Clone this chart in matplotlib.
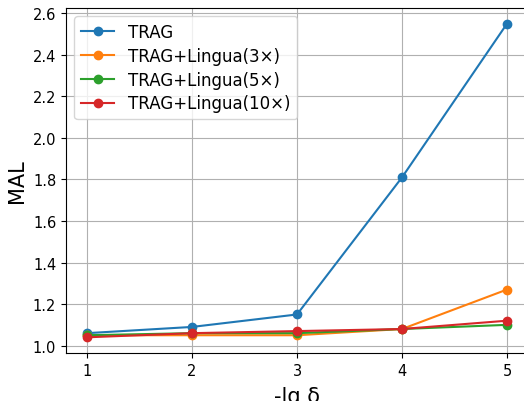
import matplotlib
matplotlib.use("Agg")
import matplotlib.pyplot as plt

x_vals = [1, 2, 3, 4, 5]
trag = [1.06, 1.09, 1.15, 1.81, 2.55]
lingua_3x = [1.05, 1.05, 1.05, 1.08, 1.27]
lingua_5x = [1.05, 1.06, 1.06, 1.08, 1.10]
lingua_10x = [1.04, 1.06, 1.07, 1.08, 1.12]

series = [
    ("TRAG", trag),
    ("TRAG+Lingua(3×)", lingua_3x),
    ("TRAG+Lingua(5×)", lingua_5x),
    ("TRAG+Lingua(10×)", lingua_10x),
]

W, H = 524, 402
fig = plt.figure(figsize=(W / 100, H / 100), dpi=100)
# axes runs a little past the right edge, as in the cropped original
ax = fig.add_axes([66 / W, (H - 354) / H, (528 - 66) / W, (354 - 9) / H])

for name, vals in series:
    ax.plot(x_vals, vals, marker="o", linewidth=1.5, markersize=6, label=name)

ax.set_xticks(x_vals)
ax.tick_params(axis="both", labelsize=10.5)
ax.set_xlabel("-lg δ", fontsize=15, labelpad=6)
ax.set_ylabel("MAL", fontsize=15)
ax.grid(True)
ax.legend(loc="upper left", fontsize=12, labelspacing=0.35)

fig.savefig("out.png", dpi=100)
